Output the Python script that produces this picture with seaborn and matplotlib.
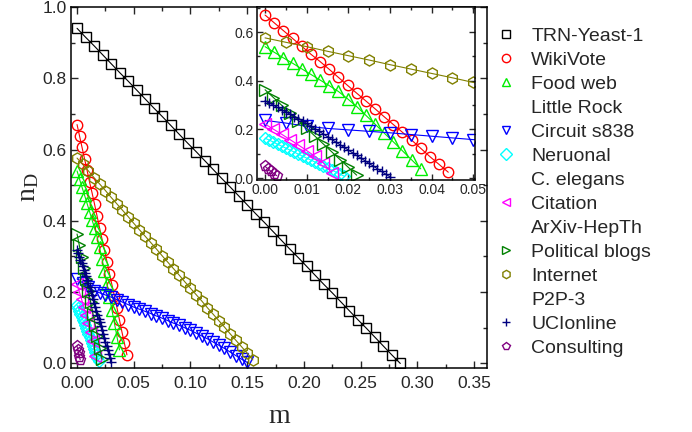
import matplotlib
matplotlib.use('Agg')
import matplotlib.pyplot as plt
import seaborn as sns
from matplotlib.lines import Line2D
from matplotlib.ticker import MultipleLocator

# fraction of driver nodes n_D against m
trn_m = [0, .0075, .015, .0225, .03, .0375, .045, .0525, .06, .0675, .075, .0825, .09,
         .0975, .105, .1125, .12, .1275, .135, .1425, .15, .1575, .165, .1725, .18, .1875,
         .195, .2025, .21, .2175, .225, .2325, .24, .2475, .255, .2625, .27, .2775, .285]
trn_n = [.940, .915, .891, .866, .841, .816, .792, .767, .742, .717, .693, .668, .643,
         .618, .594, .569, .544, .519, .495, .470, .445, .420, .396, .371, .346, .321,
         .297, .272, .247, .222, .198, .173, .148, .123, .099, .074, .049, .024, .000]

wiki_m = [0, .0022, .0044, .0066, .0088, .011, .0132, .0154, .0176, .0198, .022,
          .0242, .0264, .0286, .0308, .033, .0352, .0374, .0396, .0418, .044]
wiki_n = [.670, .638, .606, .574, .542, .509, .479, .447, .414, .381, .349,
          .317, .285, .252, .220, .188, .156, .122, .088, .056, .024]

food_m = [0, .0022, .0044, .0066, .0088, .011, .0132, .0154, .0176, .0198, .022,
          .0242, .0264, .0286, .0308, .033, .0352, .0374]
food_n = [.540, .517, .494, .472, .449, .426, .403, .380, .356, .326, .294,
          .258, .222, .185, .149, .112, .075, .038]

circ_m = [0, .005, .01, .015, .02, .025, .03, .035, .04, .045, .05, .055, .06, .065,
          .07, .075, .08, .085, .09, .095, .1, .105, .11, .115, .12, .125, .13, .135,
          .14, .145, .15]
circ_n = [.237, .226, .213, .204, .198, .192, .186, .179, .172, .165, .158, .152, .146,
          .140, .133, .127, .120, .113, .107, .100, .093, .085, .077, .069, .060, .051,
          .042, .032, .022, .012, .003]

neur_m = [0, .001, .002, .003, .004, .005, .006, .007, .008, .009, .01, .011, .012,
          .013, .014, .015, .016, .017, .018, .019]
neur_n = [.164, .156, .148, .139, .131, .123, .115, .107, .098, .090, .082, .074, .066,
          .057, .049, .041, .033, .025, .016, .008]

cit_m = [0, .002, .004, .006, .008, .01, .012, .014, .016]
cit_n = [.222, .201, .180, .158, .136, .113, .089, .062, .022]

blog_m = [0, .002, .004, .006, .008, .01, .012, .014, .016, .018, .02, .022]
blog_n = [.363, .331, .299, .267, .236, .204, .172, .140, .108, .076, .044, .012]

inet_m = [0, .005, .01, .015, .02, .025, .03, .035, .04, .045, .05, .055, .06, .065,
          .07, .075, .08, .085, .09, .095, .1, .105, .11, .115, .12, .125, .13, .135,
          .14, .145, .15, .155]
inet_n = [.576, .558, .540, .521, .503, .485, .466, .448, .430, .412, .393, .375, .357,
          .339, .321, .302, .284, .266, .248, .229, .211, .193, .175, .156, .138, .120,
          .102, .083, .065, .047, .029, .010]

uci_m = [0, .001, .002, .003, .004, .005, .006, .007, .008, .009, .01, .011, .012, .013,
         .014, .015, .016, .017, .018, .019, .02, .021, .022, .023, .024, .025, .026,
         .027, .028, .029, .03]
uci_n = [.318, .309, .299, .290, .281, .272, .262, .253, .244, .234, .225, .214, .203,
         .192, .181, .170, .159, .148, .137, .126, .115, .104, .093, .082, .071, .060,
         .049, .038, .027, .016, .005]

cons_m = [0, .0007, .0014, .0021, .0028]
cons_n = [.048, .038, .028, .018, .010]

series = [
    ('TRN-Yeast-1', trn_m, trn_n, 'black', 's', 7),
    ('WikiVote', wiki_m, wiki_n, '#ff0000', 'o', 7.5),
    ('Food web\nLittle Rock', food_m, food_n, '#00ee00', '^', 8),
    ('Circuit s838', circ_m, circ_n, '#0000ff', 'v', 8),
    ('Neruonal\nC. elegans', neur_m, neur_n, '#00ffff', 'D', 6),
    ('Citation\nArXiv-HepTh', cit_m, cit_n, '#ff00ff', '<', 8),
    ('Political blogs', blog_m, blog_n, '#008000', '>', 8),
    ('Internet\nP2P-3', inet_m, inet_n, '#808000', 'h', 8),
    ('UCIonline', uci_m, uci_n, '#000080', '+', 7),
    ('Consulting', cons_m, cons_n, '#800080', 'p', 8),
]

sns.set_style('ticks')
plt.rcParams['font.family'] = ['Liberation Sans', 'DejaVu Sans']
plt.rcParams['mathtext.default'] = 'regular'

fig = plt.figure(figsize=(6.92, 4.32), dpi=100)
ax = fig.add_axes([0.102, 0.148, 0.602, 0.836])
ins = fig.add_axes([0.371, 0.5833, 0.3153, 0.4005])
ins.set_facecolor('white')


def draw(a):
    for name, m, n, c, mk, ms in series:
        sns.lineplot(x=m, y=n, ax=a, color=c, marker=mk, markersize=ms,
                     markerfacecolor='none', markeredgecolor=c, markeredgewidth=1.0,
                     linewidth=0.8, estimator=None, sort=False, legend=False)


draw(ax)
draw(ins)

ax.set_xlim(-0.0057, 0.3616)
ax.set_ylim(-0.013, 1.0)
ax.xaxis.set_major_locator(MultipleLocator(0.05))
ax.xaxis.set_minor_locator(MultipleLocator(0.025))
ax.yaxis.set_major_locator(MultipleLocator(0.2))
ax.yaxis.set_minor_locator(MultipleLocator(0.1))
ax.xaxis.set_major_formatter('{x:.2f}')
ax.yaxis.set_major_formatter('{x:.1f}')
ax.tick_params(which='both', direction='in', top=True, right=True, width=1, labelsize=12.5)
ax.tick_params(which='major', length=5)
ax.tick_params(which='minor', length=3)
ax.tick_params(axis='x', pad=6)
ax.tick_params(axis='y', pad=3)
ax.set_xlabel('m', fontsize=20, family='Liberation Serif')
ax.set_ylabel('n$_\\mathregular{D}$', fontsize=20, family='Liberation Serif')
ax.xaxis.set_label_coords(0.5, -0.1)
ax.yaxis.set_label_coords(-0.07, 0.5)

ins.set_xlim(-0.002, 0.0504)
ins.set_ylim(-0.008, 0.703)
ins.xaxis.set_major_locator(MultipleLocator(0.01))
ins.xaxis.set_minor_locator(MultipleLocator(0.005))
ins.yaxis.set_major_locator(MultipleLocator(0.2))
ins.yaxis.set_minor_locator(MultipleLocator(0.1))
ins.xaxis.set_major_formatter('{x:.2f}')
ins.yaxis.set_major_formatter('{x:.1f}')
ins.tick_params(which='both', direction='in', top=True, right=True, width=1, labelsize=10, pad=2)
ins.tick_params(which='major', length=4)
ins.tick_params(which='minor', length=2.5)

for a in (ax, ins):
    for s in a.spines.values():
        s.set_linewidth(1.1)
        s.set_color('black')

# legend: two-line names get an empty handle for the second line
handles, labels = [], []
for name, m, n, c, mk, ms in series:
    parts = name.split('\n')
    handles.append(Line2D([], [], ls='none', marker=mk, markersize=6,
                          markerfacecolor='none', markeredgecolor=c, markeredgewidth=1))
    labels.append(parts[0])
    for extra in parts[1:]:
        handles.append(Line2D([], [], ls='none'))
        labels.append(extra)

fig.legend(handles, labels, loc='upper left', bbox_to_anchor=(0.717, 0.937),
           frameon=False, fontsize=14, handlelength=1.0, handletextpad=0.8,
           labelspacing=0.33, borderpad=0, borderaxespad=0)

fig.savefig('out.png', dpi=100)
